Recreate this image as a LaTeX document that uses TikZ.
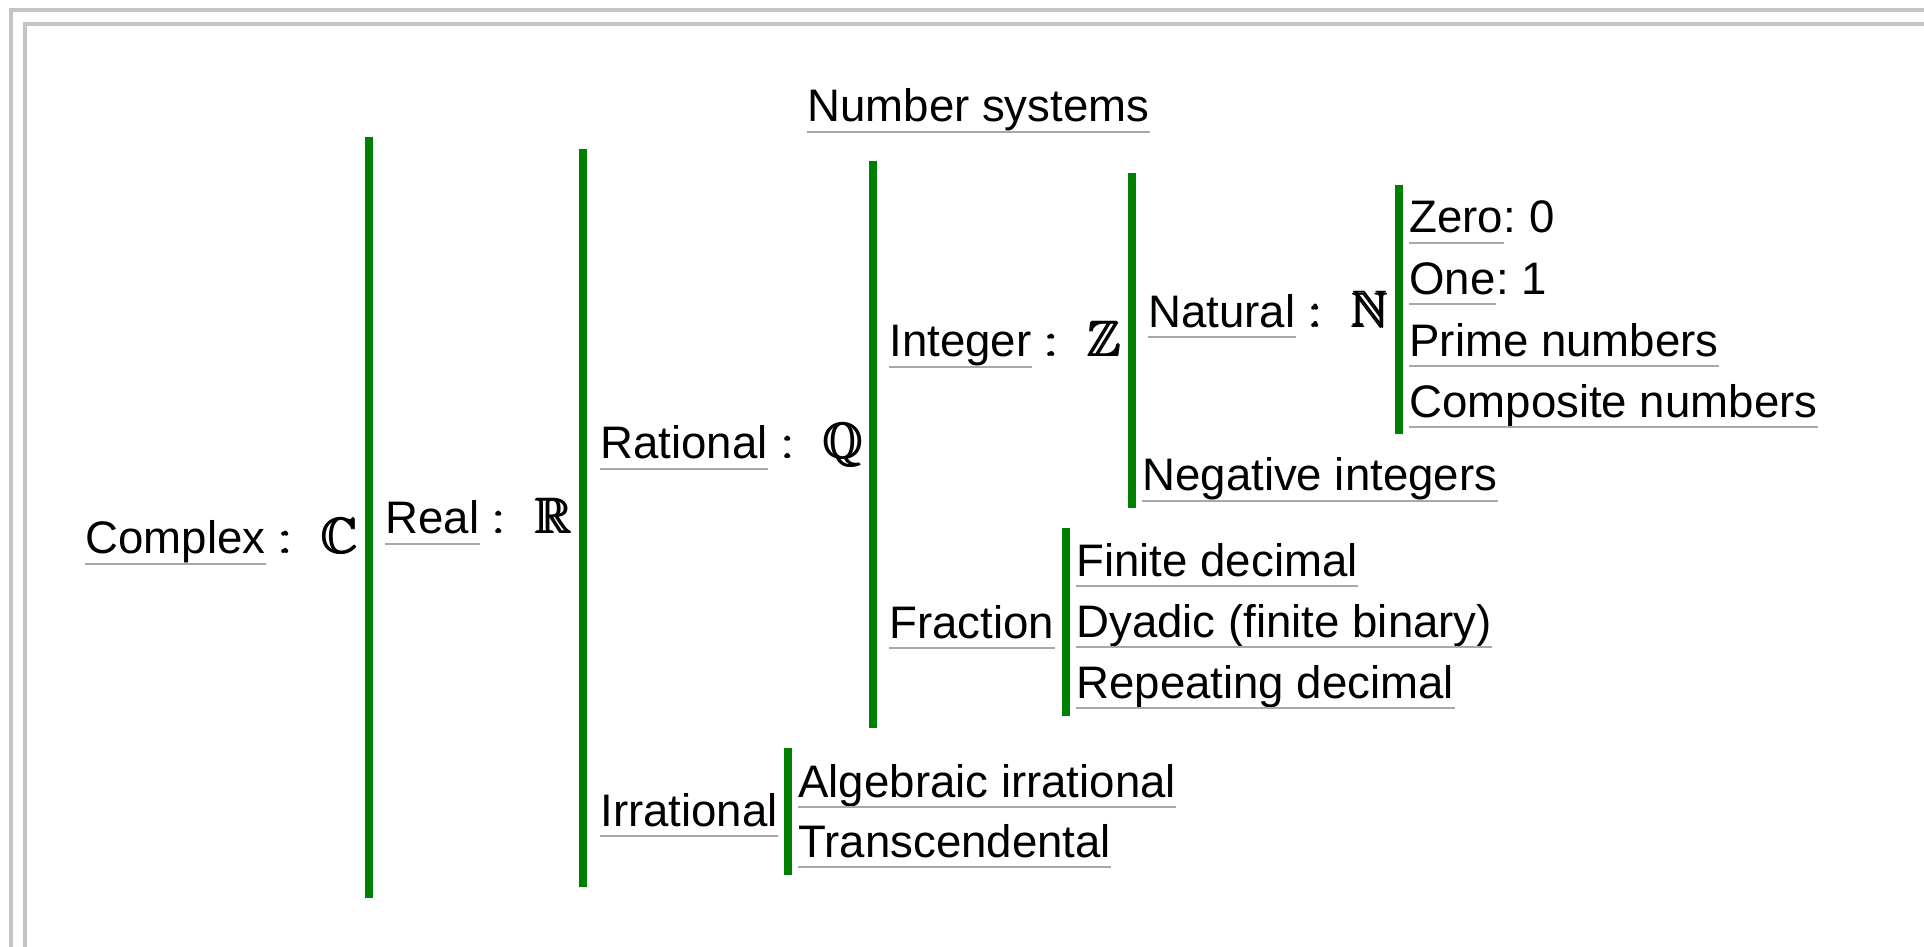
\documentclass[tikz,border=0pt]{standalone}
\usepackage{fontspec}
\usepackage{amsmath,amssymb}
\setmainfont{Liberation Sans}
\usetikzlibrary{positioning}
\definecolor{bargreen}{HTML}{008000}
\definecolor{framegray}{HTML}{C4C4C4}
\definecolor{linegray}{HTML}{A8A8A8}
\newcommand{\dstruck}[1]{{\fontsize{25pt}{30pt}\selectfont$\pmb{:}$\hspace{15pt}$\pmb{\mathbb{#1}}$}}
\tikzset{
  uline/.style={draw=linegray, line width=1pt},
  item/.style={inner sep=0pt, anchor=base west, text depth=5pt,
    append after command={(\tikzlastnode.south west) edge[uline] (\tikzlastnode.south east)}},
  plain/.style={inner sep=0pt, anchor=base west},
  bar/.style={draw=bargreen, line width=4pt},
  frame/.style={draw=framegray, line width=2pt}
}
\begin{document}
\begin{tikzpicture}[x=0.5pt, y=-0.5pt, every node/.style={font=\fontsize{22.8pt}{27pt}\selectfont}]
\useasboundingbox (0,0) rectangle (1924,947);
% page frame
\draw[frame] (11,947) -- (11,10) -- (1924,10);
\draw[frame] (25,947) -- (25,24) -- (1924,24);

\node (title) [item] at (807,122) {Number systems};

\node (complex) [item] at (85,553.5) {Complex};
\node (complexsym) [right=7pt of complex.base east, plain] {\dstruck{C}};
\node (real) [item] at (385,533.6) {Real};
\node (realsym) [right=7pt of real.base east, plain] {\dstruck{R}};
\node (rational) [item] at (600,458.6) {Rational};
\node (rationalsym) [right=7pt of rational.base east, plain] {\dstruck{Q}};
\node (irrational) [item] at (600,826) {Irrational};
\node (integer) [item] at (889,356.7) {Integer};
\node (integersym) [right=7pt of integer.base east, plain] {\dstruck{Z}};
\node (fraction) [item] at (889,638) {Fraction};
\node (natural) [item] at (1148,327) {Natural};
\node (naturalsym) [right=7pt of natural.base east, plain] {\dstruck{N}};
\node (negint) [item] at (1142,490.7) {Negative integers};

% natural numbers
\node (zero) [item] at (1409,233) {Zero};
\node (zeroval) [right=0pt of zero.base east, plain] {:\ 0};
\node (one) [item] at (1409,294) {One};
\node (oneval) [right=0pt of one.base east, plain] {:\ 1};
\node (prime) [item] at (1409,356) {Prime numbers};
\node (composite) [item] at (1409,417) {Composite numbers};

% fractions
\node (finite) [item] at (1076,576) {Finite decimal};
\node (dyadic) [item] at (1076,637) {Dyadic (finite binary)};
\node (repeating) [item] at (1076,698) {Repeating decimal};

% irrationals
\node (algebraic) [item] at (798,797) {Algebraic irrational};
\node (transc) [item] at (798,857) {Transcendental};

% brackets
\draw[bar] (369,137) -- (369,898);
\draw[bar] (583,149) -- (583,887);
\draw[bar] (873,161) -- (873,728);
\draw[bar] (1132,173) -- (1132,508);
\draw[bar] (1399,185) -- (1399,434);
\draw[bar] (1066,528) -- (1066,716);
\draw[bar] (788,748) -- (788,875);
\end{tikzpicture}
\end{document}
